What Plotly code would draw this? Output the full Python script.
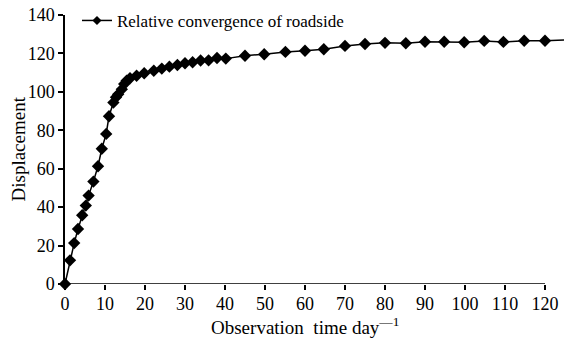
import plotly.graph_objects as go

days = [0, 1.25, 2.3, 3.25, 4.3, 5.2, 5.9, 7.1, 8.25, 9.2, 10.3, 11, 12.1, 12.75, 13.3, 14.2,
        14.8, 15.4, 16.25, 17.9, 19.8, 22.2, 24.2, 26.1, 28.1, 30, 31.9, 33.9, 35.9, 38, 40.2,
        45, 49.8, 55.1, 60, 64.7, 70, 75, 80, 85.2, 90, 94.8, 99.8, 104.8, 109.6, 114.8, 120]
displacement = [0, 12.3, 21.3, 28.6, 35.8, 40.8, 46, 53.3, 61.3, 70.4, 78.1, 87.3, 94.4, 97.2, 98.7, 101.3,
                104.1, 105.8, 107.1, 108.4, 109.7, 111, 112.1, 113.1, 114, 114.9, 115.4, 116.3, 116.4, 117.6, 117.3,
                118.8, 119.6, 120.8, 121.4, 122.2, 123.9, 124.9, 125.5, 125.3, 126.1, 126.1, 125.8, 126.5, 126, 126.6, 126.6]
ext_days = [120, 125]
ext_values = [126.6, 127]
xticks = list(range(0, 121, 10))
series_name = "Relative convergence of roadside"
x_title = "Observation  time day<sup>—1</sup>"
y_title = "Displacement"

font = "Liberation Serif"

fig = go.Figure()
fig.add_trace(go.Scatter(x=ext_days, y=ext_values, mode="lines",
                         line=dict(color="black", width=1.5), showlegend=False, hoverinfo="skip"))
fig.add_trace(go.Scatter(x=days, y=displacement, mode="lines+markers", name=series_name,
                         line=dict(color="black", width=1.5),
                         marker=dict(symbol="diamond", size=9.5, color="black"),
                         cliponaxis=False, showlegend=False))
# legend entry (smaller marker like the reference legend)
fig.add_trace(go.Scatter(x=[None], y=[None], mode="lines+markers", name=series_name,
                         line=dict(color="black", width=1.5),
                         marker=dict(symbol="diamond", size=7, color="black")))

fig.add_shape(type="line", xref="x", yref="y", x0=0, x1=120, y0=0, y1=0,
              line=dict(color="black", width=1.5))

fig.add_annotation(text=x_title, xref="x", x=60, yref="paper", y=0, yshift=-42,
                   showarrow=False, xanchor="center", yanchor="middle",
                   font=dict(size=19, family=font, color="black"))
fig.add_annotation(text=y_title, xref="paper", x=0, xshift=-47, yref="paper", y=0.5,
                   showarrow=False, textangle=-90, xanchor="center", yanchor="middle",
                   font=dict(size=19, family=font, color="black"))

fig.update_layout(
    width=564, height=339,
    margin=dict(l=65, r=0, t=15, b=55),
    paper_bgcolor="white", plot_bgcolor="white",
    font=dict(family=font, size=18, color="black"),
    showlegend=True,
    legend=dict(x=0.024, y=1.045, xanchor="left", yanchor="top",
                bgcolor="rgba(0,0,0,0)", font=dict(size=17, family=font, color="black")),
    xaxis=dict(range=[0, 124.75], tickvals=xticks, ticks="outside", ticklen=5, tickwidth=1.5,
               tickcolor="black", showline=False, showgrid=False, zeroline=False, automargin=False,
               ticklabelstandoff=-2,
               tickfont=dict(size=18, family=font, color="black")),
    yaxis=dict(range=[0, 140], dtick=20, ticks="outside", ticklen=5, tickwidth=1.5,
               tickcolor="black", showline=True, linecolor="black", linewidth=1.5,
               showgrid=False, zeroline=False, automargin=False,
               tickfont=dict(size=18, family=font, color="black")),
)

fig.write_html("out.html", config={"displayModeBar": False},
               post_script="document.body.style.margin='0';document.body.style.overflow='hidden';")
